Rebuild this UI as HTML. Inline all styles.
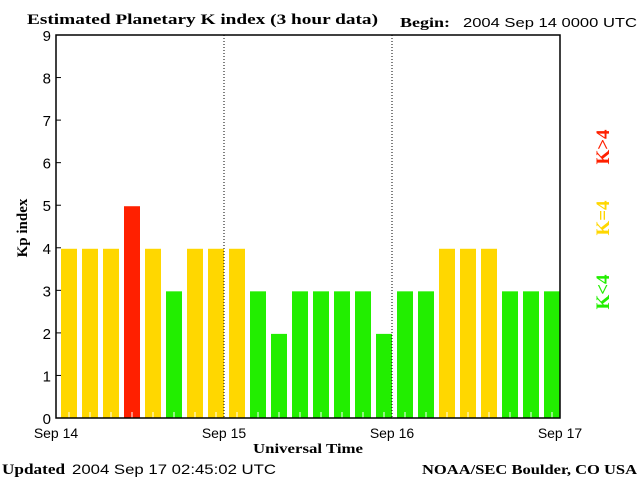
<!DOCTYPE html>
<html><head><meta charset="utf-8"><style>
body{margin:0;background:#fff;width:640px;height:480px;overflow:hidden}
svg text{font-family:"Liberation Sans",sans-serif}
.serif{font-family:"Liberation Serif",serif;font-weight:bold}
</style></head><body>
<svg id="c" width="640" height="480">
<text class="serif" x="27" y="24" font-size="15" textLength="351" lengthAdjust="spacingAndGlyphs">Estimated Planetary K index (3 hour data)</text>
<text class="serif" x="400" y="27" font-size="14" textLength="50" lengthAdjust="spacingAndGlyphs">Begin:</text>
<text x="463" y="27" font-size="13" textLength="174" lengthAdjust="spacingAndGlyphs">2004 Sep 14 0000 UTC</text>
<text class="serif" x="0" y="0" font-size="15" transform="translate(27,228) rotate(-90)" text-anchor="middle">Kp index</text>
<text class="serif" x="253" y="453" font-size="14" textLength="110" lengthAdjust="spacingAndGlyphs">Universal Time</text>
<text class="serif" x="2" y="474" font-size="15" textLength="63" lengthAdjust="spacingAndGlyphs">Updated</text>
<text x="72" y="474" font-size="14" textLength="204" lengthAdjust="spacingAndGlyphs">2004 Sep 17 02:45:02 UTC</text>
<text class="serif" x="422" y="474" font-size="14" textLength="215" lengthAdjust="spacingAndGlyphs">NOAA/SEC Boulder, CO USA</text>
<text class="serif" font-size="19" fill="#ff2000" transform="translate(609,147) rotate(-90)" text-anchor="middle">K&gt;4</text>
<text class="serif" font-size="19" fill="#ffd700" transform="translate(609,218) rotate(-90)" text-anchor="middle">K=4</text>
<text class="serif" font-size="19" fill="#22ee00" transform="translate(609,292) rotate(-90)" text-anchor="middle">K&lt;4</text>
<g id="plot"></g>
</svg>
<script>
const values=[4,4,4,5,4,3,4,4,4,3,2,3,3,3,3,2,3,3,4,4,4,3,3,3];
const yTicks=[0,1,2,3,4,5,6,7,8,9];
const dayLabels=["Sep 14","Sep 15","Sep 16","Sep 17"];
const L=56,R=560,T=35,B=418;
const x=i=>L+(R-L)*i/values.length;
const y=v=>B-(B-T)*v/9;
const g=document.getElementById('plot');
const NS='http://www.w3.org/2000/svg';
function mk(t,a){const e=document.createElementNS(NS,t);for(const k in a)e.setAttribute(k,a[k]);g.appendChild(e);return e;}
const sw=(R-L)/values.length;
values.forEach((v,i)=>{
 const col=v>4?'#ff2000':v==4?'#ffd700':'#22ee00';
 const r=mk('rect',{x:x(i)+5,y:y(v)+1,width:sw-5,height:B-y(v)-1,fill:col});
 
 
 const t=mk('line',{x1:x(i)+5+(sw-5)/2,x2:x(i)+5+(sw-5)/2,y1:B-6,y2:B,stroke:'#fff'});
 
 
});
[1,2].forEach(d=>{
 const xx=L+(R-L)*d/3;
 const l=mk('line',{x1:xx,x2:xx,y1:T,y2:B,stroke:'#000','stroke-dasharray':'1,2'});
 
 
});
const fr=mk('rect',{x:L,y:T,width:R-L,height:B-T,fill:'none',stroke:'#000','stroke-width':1.5});


yTicks.forEach(v=>{
 const l=mk('line',{x1:L,x2:L+5,y1:y(v),y2:y(v),stroke:'#000'});
 
 
 const t=mk('text',{x:L-5,y:y(v)+6,'font-size':15,'text-anchor':'end'});
 t.textContent=v;
 
 
});
dayLabels.forEach((s,d)=>{
 const t=mk('text',{x:L+(R-L)*d/3,y:438,'font-size':14,'text-anchor':'middle'});
 t.textContent=s;
 
 
});
</script>
</body></html>
